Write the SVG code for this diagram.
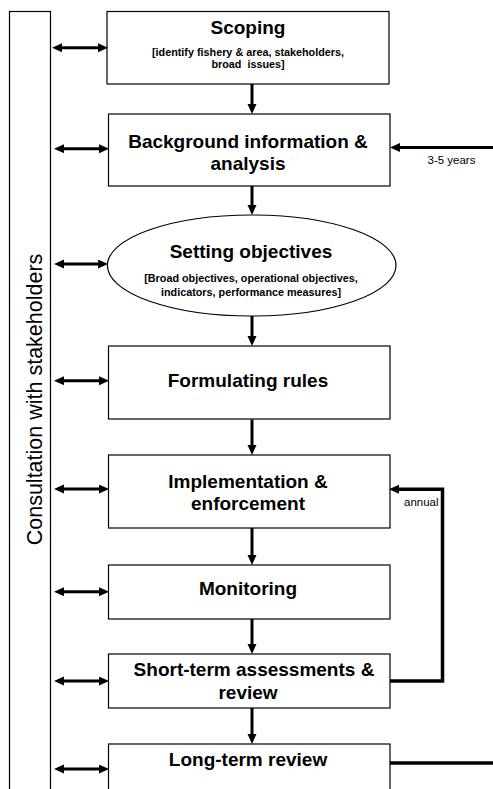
<svg xmlns="http://www.w3.org/2000/svg" width="493" height="789" viewBox="0 0 493 789">
  <defs>
    <style>
      .box { fill: #fff; stroke: #000; stroke-width: 1.2; }
      .title { font-family: "Liberation Sans", Arial, sans-serif; font-weight: bold; font-size: 19px; text-anchor: middle; fill: #000; }
      .sub { font-family: "Liberation Sans", Arial, sans-serif; font-weight: bold; font-size: 10.8px; text-anchor: middle; fill: #000; }
      .note { font-family: "Liberation Sans", Arial, sans-serif; font-size: 11.5px; fill: #000; }
      .side { font-family: "Liberation Sans", Arial, sans-serif; font-size: 21.5px; text-anchor: middle; fill: #000; }
      .arrow { fill: none; stroke: #000; stroke-width: 3; marker-end: url(#head); }
      .both { fill: none; stroke: #000; stroke-width: 3; marker-start: url(#head); marker-end: url(#head); }
      .plain { fill: none; stroke: #000; stroke-width: 3.5; }
    </style>
    <marker id="head" markerUnits="userSpaceOnUse" markerWidth="11" markerHeight="10" refX="2" refY="4.5" orient="auto-start-reverse">
      <path d="M0,0 L10,4.5 L0,9 z" fill="#000"/>
    </marker>
  </defs>

  <!-- stakeholder consultation band -->
  <g id="consultation">
    <rect class="box" x="9.5" y="11.5" width="41" height="790"/>
    <text class="side" transform="translate(41.5,399.5) rotate(-90)">Consultation with stakeholders</text>
  </g>

  <g id="scoping">
    <rect class="box" x="107" y="11.5" width="282" height="72.5"/>
    <text class="title" x="248" y="34">Scoping</text>
    <text class="sub" x="248" y="55.5">[identify fishery &amp; area, stakeholders,</text>
    <text class="sub" x="248" y="68" xml:space="preserve">broad  issues]</text>
  </g>

  <g id="background">
    <rect class="box" x="108.5" y="114" width="281.5" height="72"/>
    <text class="title" x="248" y="147.5">Background information &amp;</text>
    <text class="title" x="248" y="170">analysis</text>
  </g>

  <g id="objectives">
    <ellipse class="box" cx="251.7" cy="265.5" rx="144.3" ry="50.5"/>
    <text class="title" x="251" y="258">Setting objectives</text>
    <text class="sub" x="251" y="281.5">[Broad objectives, operational objectives,</text>
    <text class="sub" x="251" y="295.5">indicators, performance measures]</text>
  </g>

  <g id="rules">
    <rect class="box" x="108.5" y="346" width="281.5" height="73"/>
    <text class="title" x="248" y="386.5">Formulating rules</text>
  </g>

  <g id="implementation">
    <rect class="box" x="108.5" y="455" width="281.5" height="73"/>
    <text class="title" x="248" y="487.5">Implementation &amp;</text>
    <text class="title" x="248" y="510">enforcement</text>
  </g>

  <g id="monitoring">
    <rect class="box" x="108.5" y="565" width="281.5" height="54"/>
    <text class="title" x="248" y="595">Monitoring</text>
  </g>

  <g id="short-term">
    <rect class="box" x="108.5" y="654" width="281.5" height="54"/>
    <text class="title" x="254" y="676">Short-term assessments &amp;</text>
    <text class="title" x="248" y="699">review</text>
  </g>

  <g id="long-term">
    <rect class="box" x="108.5" y="744" width="281.5" height="60"/>
    <text class="title" x="248" y="766">Long-term review</text>
  </g>

  <g id="connectors">
    <!-- two-way links to consultation -->
    <line class="both" x1="60" y1="47.7" x2="100" y2="47.7"/>
    <line class="both" x1="62" y1="148.7" x2="101" y2="148.7"/>
    <line class="both" x1="62" y1="264" x2="100" y2="264"/>
    <line class="both" x1="62" y1="380.7" x2="101" y2="380.7"/>
    <line class="both" x1="62" y1="489" x2="101" y2="489"/>
    <line class="both" x1="62" y1="591.7" x2="101" y2="591.7"/>
    <line class="both" x1="62" y1="681" x2="101" y2="681"/>
    <line class="both" x1="62" y1="769" x2="101" y2="769"/>

    <!-- main sequence -->
    <line class="arrow" x1="252" y1="84" x2="252" y2="106"/>
    <line class="arrow" x1="252" y1="186" x2="252" y2="207"/>
    <line class="arrow" x1="252" y1="316" x2="252" y2="338"/>
    <line class="arrow" x1="252" y1="419.5" x2="252" y2="447"/>
    <line class="arrow" x1="252" y1="528" x2="252" y2="557"/>
    <line class="arrow" x1="252" y1="619" x2="252" y2="646"/>
    <line class="arrow" x1="252" y1="708" x2="252" y2="736"/>

    <!-- 3-5 year loop back to background -->
    <line class="arrow" x1="493" y1="147.5" x2="398" y2="147.5"/>
    <text class="note" x="427.5" y="163.5">3-5 years</text>

    <!-- annual loop back to implementation -->
    <path class="plain" d="M390,681 H442.5 V489.3 H397" style="marker-end:url(#head)"/>
    <text class="note" x="404" y="505.5">annual</text>

    <!-- long-term review outflow -->
    <line class="plain" x1="390" y1="763" x2="493" y2="763"/>
  </g>
</svg>
